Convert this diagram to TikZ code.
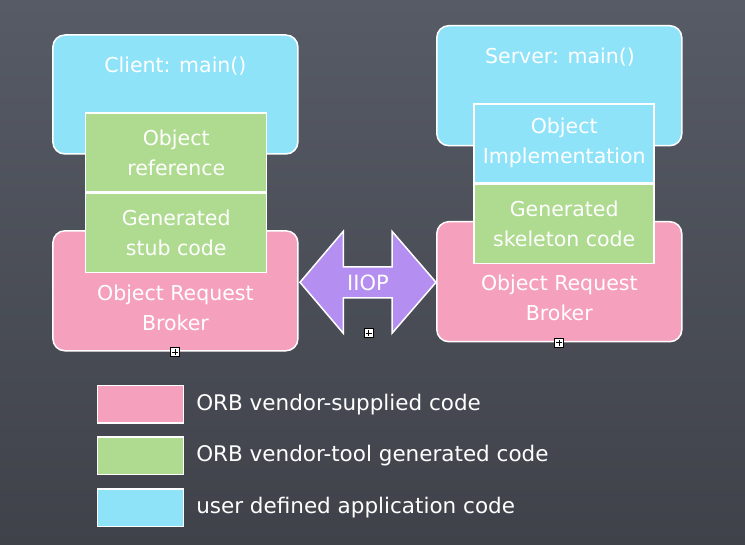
\documentclass[tikz,border=0pt]{standalone}
\usepackage{fontspec}
\setmainfont{DejaVu Sans}
\usetikzlibrary{positioning}

\definecolor{boardtop}{HTML}{575B66}
\definecolor{boardbot}{HTML}{3F4249}
\definecolor{userblue}{HTML}{8FE3F9}
\definecolor{toolgreen}{HTML}{AFDB90}
\definecolor{orbpink}{HTML}{F5A1BE}
\definecolor{iiopviolet}{HTML}{B48EF0}

\tikzset{
	box/.style={draw=white, line width=1.5pt, rounded corners=12pt, minimum width=245pt, minimum height=120pt, inner sep=0pt},
	part/.style={draw=white, line width=1.5pt, minimum width=181pt, minimum height=79pt, inner sep=0pt},
	keybox/.style={draw=white, line width=1.5pt, minimum width=86pt, minimum height=37.5pt, inner sep=0pt},
	txt/.style={text=white, font=\fontsize{20.5}{30}\selectfont, align=center, inner sep=0pt},
	keytxt/.style={txt, font=\fontsize{21.5}{30}\selectfont},
	handle/.style={draw=black, fill=white, line width=.7pt, minimum size=9pt, inner sep=0pt,
		path picture={\draw[line width=.7pt] ([xshift=-3pt]path picture bounding box.center) -- ([xshift=3pt]path picture bounding box.center)
			([yshift=-3pt]path picture bounding box.center) -- ([yshift=3pt]path picture bounding box.center);}}
}

\begin{document}
\begin{tikzpicture}[x=1pt,y=-1pt]
	\fill[top color=boardtop, bottom color=boardbot] (0,0) rectangle (745,545);

	% client side
	\node[box, fill=userblue, minimum height=119pt] (client) at (175.4,94.5) {};
	\node[box, fill=orbpink] (clientorb) at (175.4,290.8) {};
	\node[part, fill=toolgreen] (objref) at (176.2,152.4) {};
	\node[part, fill=toolgreen, below=0pt of objref] (stub) {};
	\node[txt] (clientlbl) at (175.4,65.7) {Client: main()};
	\node[txt] at (objref) {Object\\reference};
	\node[txt] at (stub) {Generated\\stub code};
	\node[txt] (clientorblbl) at (175.4,307.5) {Object Request\\Broker};

	% server side
	\node[box, fill=userblue] (server) at (559.3,85.7) {};
	\node[box, fill=orbpink] (serverorb) at (559.3,281.7) {};
	\node[part, fill=userblue, minimum width=180pt] (objimpl) at (564.2,143.3) {};
	\node[part, fill=toolgreen, minimum width=180pt, below=0pt of objimpl] (skel) {};
	\node[txt] (serverlbl) at (560,56.7) {Server: main()};
	\node[txt] at (objimpl) {Object\\Implementation};
	\node[txt] at (skel) {Generated\\skeleton code};
	\node[txt] (serverorblbl) at (559.3,298.3) {Object Request\\Broker};

	% IIOP
	\draw[draw=white, line width=1.5pt, fill=iiopviolet, line join=miter]
		(300,282.3) -- (343.3,231.3) -- (343.3,267) -- (392,267) -- (392,231.3) -- (436,282.3)
		-- (392,333.3) -- (392,298) -- (343.3,298) -- (343.3,333.3) -- cycle;
	\node[txt, font=\fontsize{21}{24}\selectfont] (iiop) at (368,283) {IIOP};

	% legend
	\node[keybox, fill=orbpink] (keyorb) at (140.3,404.5) {};
	\node[keybox, fill=toolgreen, below=12.5pt of keyorb] (keytool) {};
	\node[keybox, fill=userblue, below=12.5pt of keytool] (keyuser) {};
	\node[keytxt, right=12pt of keyorb] {ORB vendor-supplied code};
	\node[keytxt, right=12pt of keytool] {ORB vendor-tool generated code};
	\node[keytxt, right=12pt of keyuser] {user defined application code};

	% handles
	\node[handle] at (175,352) {};
	\node[handle] at (368.5,333) {};
	\node[handle] at (559,342.7) {};
\end{tikzpicture}
\end{document}
